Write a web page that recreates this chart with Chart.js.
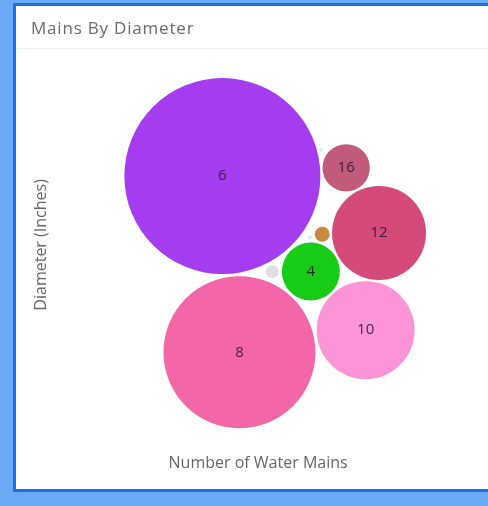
<!DOCTYPE html>
<html>
<head>
<meta charset="utf-8">
<script src="https://cdn.jsdelivr.net/npm/chart.js@4"></script>
<style>
    html, body { margin: 0; padding: 0; background: #6aa9f4; overflow: hidden; }
    #page { position: relative; width: 488px; height: 506px; overflow: hidden; background: #6aa9f4; }
    #card { position: absolute; left: 13px; top: 3px; width: 600px; height: 483px; background: #fff; border: 3px solid #1d6fe4; border-right: none; }
    #head { position: absolute; left: 0; top: 0; width: 472px; height: 42px; border-bottom: 1px solid #efefef; font-family: 'Open Sans', sans-serif; font-size: 17px; letter-spacing: 0.8px; color: #6a6a6a; line-height: 43px; padding-left: 15px; z-index: 2; }
    #wrap { position: absolute; left: 0; top: 0; width: 472px; height: 483px; }
</style>
</head>
<body>
<div id="page">
<div id="card">
    <div id="wrap"><canvas id="myChart"></canvas></div>
    <div id="head">Mains By Diameter</div>
</div>
</div>
<script>
// diameters (inches) and where each bubble sits in the packed layout
const diameters = ['6', '8', '10', '12', '16', '4', '20', '2', '3', '24'];
const packX = [41.2, 45.4, 76.5, 79.8, 71.7, 63.0, 65.8, 53.5, 65.5, 62.8];
const packY = [66.8, 23.8, 29.2, 52.9, 68.8, 43.5, 52.6, 43.5, 73.2, 51.8];
const bubbleSize = [98, 76, 49, 47, 23.7, 29, 7.5, 6.5, 2, 2];
const colors = ['#a63cf0', '#f366a8', '#fc95d8', '#d34a7b', '#c15b7a', '#16cc16', '#c98a3f', '#e1dde7', '#dbe8e4', '#dfe6ef'];
const showLabel = [true, true, true, true, true, true, false, false, false, false];

const points = diameters.map((d, i) => ({x: packX[i], y: packY[i], r: bubbleSize[i]}));

const labelPlugin = {
    id: 'bubbleLabels',
    afterDatasetsDraw(chart) {
        const c = chart.ctx;
        const meta = chart.getDatasetMeta(0);
        c.save();
        c.font = '15px "Open Sans", sans-serif';
        c.fillStyle = 'rgba(40,15,50,0.85)';
        c.textAlign = 'center';
        c.textBaseline = 'middle';
        meta.data.forEach((el, i) => {
            if (showLabel[i]) c.fillText(diameters[i], el.x, el.y);
        });
        c.restore();
    }
};

const ctx = document.getElementById('myChart');
let myChart = new Chart(ctx, {
    type: 'bubble',
    data: {
        labels: diameters,
        datasets: [{
            label: 'Number of Water Mains',
            data: points,
            backgroundColor: colors,
            borderWidth: 0,
            clip: false
        }]
    },
    options: {
        responsive: true,
        maintainAspectRatio: false,
        animation: false,
        layout: {autoPadding: false, padding: {left: 12, right: 27, top: 34, bottom: 12}},
        plugins: {legend: {display: false}, tooltip: {enabled: false}},
        scales: {
            x: {
                min: 0, max: 100,
                grid: {display: false, drawTicks: false}, border: {display: false},
                ticks: {display: false},
                title: {display: true, text: 'Number of Water Mains', color: '#666', font: {family: 'Open Sans', size: 16}}
            },
            y: {
                min: 0, max: 100,
                grid: {display: false, drawTicks: false}, border: {display: false},
                ticks: {display: false},
                title: {display: true, text: 'Diameter (Inches)', color: '#666', font: {family: 'Open Sans', size: 16}}
            }
        }
    },
    plugins: [labelPlugin]
});
</script>
</body>
</html>
